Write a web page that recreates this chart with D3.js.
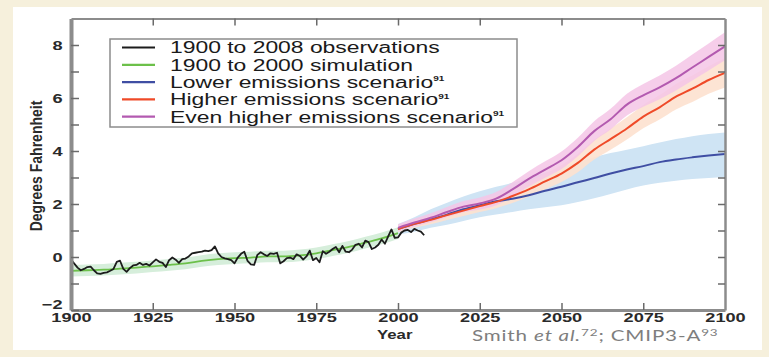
<!DOCTYPE html>
<html>
<head>
<meta charset="utf-8">
<script src="https://cdn.jsdelivr.net/npm/d3@7"></script>
<style>
  html, body { margin: 0; padding: 0; background: #f6f0dc; }
  svg { display: block; }
</style>
</head>
<body>
<svg id="chart" width="769" height="357"></svg>
<script>
// ---- data ----
const obsStartYear = 1900;
// annual observed temperature change, degrees F (1900..2008)
const observations = [
  -0.10, -0.25, -0.40, -0.50, -0.45, -0.38, -0.36, -0.50, -0.62, -0.64,
  -0.60, -0.58, -0.52, -0.45, -0.18, -0.14, -0.45, -0.56, -0.42, -0.32,
  -0.30, -0.22, -0.30, -0.26, -0.32, -0.20, -0.09, -0.18, -0.22, -0.38,
  -0.12, -0.02, -0.10, -0.22, -0.08, -0.06, 0.02, 0.14, 0.16, 0.18,
  0.20, 0.24, 0.22, 0.26, 0.40, 0.14, 0.00, -0.05, -0.08, -0.12,
  -0.24, -0.02, 0.12, 0.20, -0.15, -0.28, -0.30, 0.08, 0.18, 0.10,
  0.04, 0.14, 0.12, 0.16, -0.24, -0.16, -0.04, -0.02, -0.08, 0.10,
  0.04, -0.10, 0.02, 0.24, -0.12, -0.04, -0.20, 0.22, 0.12, 0.20,
  0.30, 0.38, 0.18, 0.42, 0.20, 0.18, 0.28, 0.46, 0.50, 0.36,
  0.62, 0.56, 0.30, 0.36, 0.46, 0.66, 0.50, 0.78, 1.04, 0.72,
  0.74, 0.92, 1.00, 1.02, 0.94, 1.06, 1.00, 0.96, 0.82
];

const simYears = [1900, 1905, 1910, 1915, 1920, 1925, 1930, 1935, 1940, 1945, 1950,
                  1955, 1960, 1965, 1970, 1975, 1980, 1985, 1990, 1995, 2000];
const simulation = [-0.52, -0.50, -0.48, -0.44, -0.40, -0.35, -0.30, -0.24, -0.15, -0.08, -0.04,
                    -0.02, 0.02, 0.02, 0.06, 0.14, 0.26, 0.38, 0.54, 0.70, 0.90];
const simLow  = [-0.74, -0.72, -0.70, -0.66, -0.62, -0.57, -0.52, -0.46, -0.37, -0.30, -0.26,
                 -0.24, -0.20, -0.20, -0.16, -0.08, 0.04, 0.16, 0.32, 0.48, 0.68];
const simHigh = [-0.30, -0.28, -0.26, -0.22, -0.18, -0.13, -0.08, -0.02, 0.07, 0.14, 0.18,
                 0.20, 0.24, 0.24, 0.28, 0.36, 0.48, 0.60, 0.76, 0.92, 1.12];

const scenarioYears = [2000, 2005, 2010, 2015, 2020, 2025, 2030, 2035, 2040, 2045, 2050,
                       2055, 2060, 2065, 2070, 2075, 2080, 2085, 2090, 2095, 2100];

const lowerEmissions = [1.05, 1.25, 1.42, 1.60, 1.80, 1.95, 2.10, 2.20, 2.33, 2.50, 2.65,
                        2.82, 2.98, 3.15, 3.30, 3.43, 3.58, 3.68, 3.76, 3.83, 3.89];
const lowerLow  = [0.85, 0.95, 1.10, 1.22, 1.36, 1.50, 1.60, 1.70, 1.80, 1.88, 1.95,
                   2.08, 2.22, 2.38, 2.55, 2.70, 2.80, 2.88, 2.94, 2.98, 3.02];
const lowerHigh = [1.25, 1.50, 1.80, 2.05, 2.28, 2.48, 2.65, 2.80, 2.98, 3.18, 3.38,
                   3.58, 3.76, 3.92, 4.05, 4.18, 4.32, 4.45, 4.56, 4.64, 4.70];

const higherEmissions = [1.05, 1.25, 1.40, 1.58, 1.75, 1.92, 2.08, 2.30, 2.55, 2.85, 3.15,
                         3.55, 4.05, 4.45, 4.85, 5.30, 5.65, 6.05, 6.35, 6.68, 6.95];
const higherLow  = [0.92, 1.10, 1.24, 1.40, 1.55, 1.70, 1.84, 2.04, 2.27, 2.55, 2.83,
                    3.20, 3.68, 4.05, 4.43, 4.86, 5.19, 5.57, 5.85, 6.16, 6.40];
const higherHigh = [1.18, 1.40, 1.56, 1.76, 1.95, 2.14, 2.32, 2.56, 2.83, 3.15, 3.47,
                    3.90, 4.42, 4.85, 5.27, 5.74, 6.11, 6.53, 6.85, 7.20, 7.50];

const evenHigherEmissions = [1.10, 1.30, 1.48, 1.70, 1.90, 2.02, 2.20, 2.55, 2.95, 3.30, 3.65,
                             4.15, 4.75, 5.20, 5.75, 6.10, 6.40, 6.75, 7.15, 7.55, 7.95];
const evenHigherLow  = [0.96, 1.15, 1.31, 1.51, 1.69, 1.79, 1.95, 2.28, 2.66, 2.99, 3.32,
                        3.80, 4.38, 4.81, 5.34, 5.67, 5.95, 6.28, 6.66, 7.04, 7.42];
const evenHigherHigh = [1.24, 1.45, 1.65, 1.89, 2.11, 2.25, 2.45, 2.82, 3.24, 3.61, 3.98,
                        4.50, 5.12, 5.59, 6.16, 6.53, 6.85, 7.22, 7.64, 8.06, 8.48];

const xTicks = [1900, 1925, 1950, 1975, 2000, 2025, 2050, 2075, 2100];
const yTicks = [-2, -1, 0, 1, 2, 3, 4, 5, 6, 7, 8];
const yLabelled = [-2, 0, 2, 4, 6, 8];

const legendLabels = [
  { text: "1900 to 2008 observations", sup: "" },
  { text: "1900 to 2000 simulation", sup: "" },
  { text: "Lower emissions scenario", sup: "91" },
  { text: "Higher emissions scenario", sup: "91" },
  { text: "Even higher emissions scenario", sup: "91" }
];
const legendColors = ["#1c1c1c", "#6cc04a", "#3f4ea3", "#ef4a28", "#b35ab0"];

// ---- drawing ----
const SX = 1.4; // horizontal text stretch
const svg = d3.select("#chart");

svg.append("rect").attr("width", 769).attr("height", 357).attr("fill", "#f6f0dc");
svg.append("rect").attr("x", 13).attr("y", 7).attr("width", 749).attr("height", 343).attr("fill", "#ffffff");

const x = d3.scaleLinear().domain([1900, 2100]).range([71, 725]);
const y = d3.scaleLinear().domain([-2, 9]).range([310, 18.5]);

function band(years, lo, hi) {
  return d3.area()
    .x((d, i) => x(years[i]))
    .y0((d, i) => y(lo[i]))
    .y1((d, i) => y(hi[i]))
    .curve(d3.curveMonotoneX)(years);
}
function line(years, vals, curve) {
  return d3.line()
    .x((d, i) => x(years[i]))
    .y((d, i) => y(vals[i]))
    .curve(curve || d3.curveMonotoneX)(years);
}

const plot = svg.append("g");

// uncertainty bands
plot.append("path").attr("d", band(simYears, simLow, simHigh)).attr("fill", "#d6eedb");
plot.append("path").attr("d", band(scenarioYears, lowerLow, lowerHigh)).attr("fill", "#cfe4f4");
plot.append("path").attr("d", band(scenarioYears, higherLow, higherHigh)).attr("fill", "#fde1cf").attr("opacity", 0.9);
plot.append("path").attr("d", band(scenarioYears, evenHigherLow, evenHigherHigh)).attr("fill", "#f4c6e6").attr("opacity", 0.85);

// simulation and observations
plot.append("path").attr("d", line(simYears, simulation)).attr("fill", "none")
  .attr("stroke", legendColors[1]).attr("stroke-width", 1.8);
const obsYears = observations.map((d, i) => obsStartYear + i);
plot.append("path").attr("d", line(obsYears, observations, d3.curveLinear)).attr("fill", "none")
  .attr("stroke", legendColors[0]).attr("stroke-width", 1.8).attr("stroke-linejoin", "round");

// scenario lines
plot.append("path").attr("d", line(scenarioYears, lowerEmissions)).attr("fill", "none")
  .attr("stroke", legendColors[2]).attr("stroke-width", 2);
plot.append("path").attr("d", line(scenarioYears, higherEmissions)).attr("fill", "none")
  .attr("stroke", legendColors[3]).attr("stroke-width", 2);
plot.append("path").attr("d", line(scenarioYears, evenHigherEmissions)).attr("fill", "none")
  .attr("stroke", legendColors[4]).attr("stroke-width", 2);

// axes
function styleAxis(g, domainWidth) {
  g.select(".domain").attr("stroke", "#8c8c8c").attr("stroke-width", domainWidth);
  g.selectAll(".tick line").attr("stroke", "#6a6a6a").attr("stroke-width", 1.5);
  g.selectAll("text")
    .attr("font-family", "'Liberation Sans', Arial, sans-serif")
    .attr("font-weight", "bold")
    .attr("font-size", 13)
    .attr("fill", "#2a2a2a")
    .attr("transform", `scale(${SX},1)`);
}

const innerTick = d => (d === 1900 || d === 2100) ? 0 : -7;

const gBottom = svg.append("g").attr("transform", `translate(0,${y(-2)})`)
  .call(d3.axisBottom(x).tickValues(xTicks).tickFormat(d3.format("d")).tickSizeOuter(0).tickSizeInner(-7).tickPadding(3));
gBottom.selectAll(".tick line").attr("y2", d => innerTick(d));
styleAxis(gBottom, 3);

const gTop = svg.append("g").attr("transform", `translate(0,${y(9)})`)
  .call(d3.axisTop(x).tickValues(xTicks.slice(1, -1)).tickFormat("").tickSizeOuter(0).tickSizeInner(-7));
styleAxis(gTop, 2);

const gLeft = svg.append("g").attr("transform", `translate(${x(1900)},0)`)
  .call(d3.axisLeft(y).tickValues(yTicks).tickFormat(d => yLabelled.includes(d) ? d3.format("d")(d) : "")
    .tickSizeOuter(0).tickSizeInner(-8).tickPadding(6));
styleAxis(gLeft, 4);
gLeft.selectAll(".tick text").attr("dy", "0.36em");
gLeft.selectAll(".tick").filter(d => d === -2).select("text").attr("dy", "-0.12em");

const gRight = svg.append("g").attr("transform", `translate(${x(2100)},0)`)
  .call(d3.axisRight(y).tickValues(yTicks.slice(1)).tickFormat("").tickSizeOuter(0).tickSizeInner(-7));
styleAxis(gRight, 2.5);

// axis titles
svg.append("text")
  .attr("transform", `translate(${x(1999)},339) scale(${SX},1)`)
  .attr("text-anchor", "middle")
  .attr("font-family", "'Liberation Sans', Arial, sans-serif")
  .attr("font-weight", "bold").attr("font-size", 12).attr("fill", "#2a2a2a")
  .text("Year");

svg.append("text")
  .attr("transform", `translate(42,166) rotate(-90) scale(1,1.2)`)
  .attr("text-anchor", "middle")
  .attr("font-family", "'Liberation Sans', Arial, sans-serif")
  .attr("font-weight", "bold").attr("font-size", 14).attr("fill", "#2a2a2a")
  .text("Degrees Fahrenheit");

// legend
const legend = svg.append("g");
legend.append("rect").attr("x", 110).attr("y", 39).attr("width", 407).attr("height", 88)
  .attr("fill", "#ffffff").attr("stroke", "#8c8c8c").attr("stroke-width", 1.5);
legendLabels.forEach((lab, i) => {
  const cy = 47.5 + i * 17.3;
  legend.append("line").attr("x1", 122).attr("x2", 155).attr("y1", cy).attr("y2", cy)
    .attr("stroke", legendColors[i]).attr("stroke-width", 2.2);
  const t = legend.append("text")
    .attr("transform", `translate(170,${cy + 5.8}) scale(1.43,1)`)
    .attr("font-family", "'Liberation Sans', Arial, sans-serif")
    .attr("font-size", 16).attr("fill", "#1a1a1a")
    .text(lab.text);
  if (lab.sup) {
    t.append("tspan").attr("dy", -6.5).attr("font-size", 7).attr("font-weight", "bold").text(lab.sup);
  }
});

// source note
const note = svg.append("text")
  .attr("transform", `translate(472,341) scale(1.42,1)`)
  .attr("font-family", "Lato, 'Open Sans', sans-serif")
  .attr("font-size", 14.5).attr("letter-spacing", 0.6).attr("fill", "#7e7e7e");
note.append("tspan").text("Smith ");
note.append("tspan").attr("font-style", "italic").text("et al.");
note.append("tspan").attr("dy", -5.5).attr("font-size", 9.5).text("72");
note.append("tspan").attr("dy", 5.5).text("; CMIP3-A");
note.append("tspan").attr("dy", -5.5).attr("font-size", 9.5).text("93");
</script>
</body>
</html>
